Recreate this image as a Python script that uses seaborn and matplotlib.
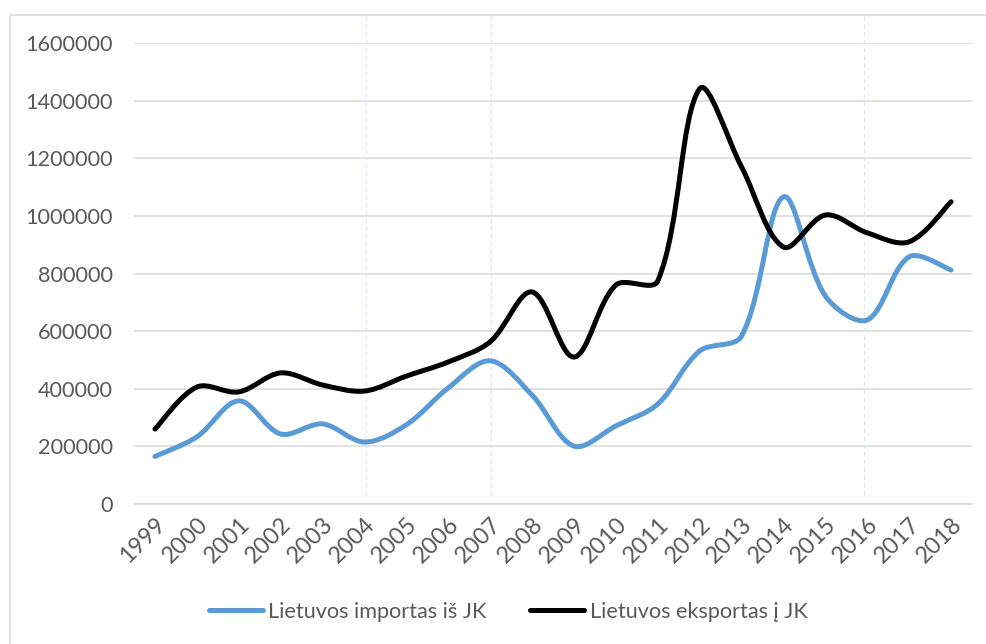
import seaborn as sns
import matplotlib.pyplot as plt
import pandas as pd
import numpy as np
from matplotlib.path import Path
from matplotlib.patches import PathPatch, Rectangle
from matplotlib.lines import Line2D

years = [str(y) for y in range(1999, 2019)]
importas = [165000, 233000, 358000, 243000, 278000, 215000, 275000, 403000, 497000, 378000,
            201000, 271000, 347000, 531000, 583000, 1066000, 722000, 639000, 858000, 812000]
eksportas = [260000, 406000, 389000, 455000, 413000, 392000, 444000, 493000, 563000, 736000,
             510000, 760000, 774000, 1441000, 1170000, 892000, 1003000, 941000, 910000, 1049000]
series_names = ['Lietuvos importas iš JK', 'Lietuvos eksportas į JK']
colors = ['#5B9BD5', '#000000']

sns.set_theme(style="white")
plt.rcParams['font.family'] = ['Lato', 'DejaVu Sans']
text_color = '#595959'
grid_color = '#D9D9D9'
fs = 15.6

df = pd.DataFrame({'year': years * 2,
                   'value': importas + eksportas,
                   'series': [series_names[0]] * 20 + [series_names[1]] * 20})
df['x'] = np.tile(np.arange(20), 2)

fig = plt.figure(figsize=(9.87, 6.44), dpi=100)
ax = fig.add_axes([134 / 987, 1 - 504 / 644, (972 - 134) / 987, (504 - 43) / 644])

sns.lineplot(data=df, x='x', y='value', hue='series', palette=colors,
             estimator=None, legend=False, ax=ax, linewidth=3.6)

ax.set_xlim(-0.5, 19.5)
ax.set_ylim(0, 1600000)


def smooth_path(xs, ys, sx, sy):
    # bezier smoothing done in screen space, tangents split by neighbouring segment lengths
    pts = np.column_stack([xs, ys])
    scr = pts * np.array([sx, sy])
    n = len(pts)
    verts = [pts[0]]
    codes = [Path.MOVETO]
    out_c, in_c = [], []
    for i in range(n):
        p_prev = pts[max(i - 1, 0)]
        p_next = pts[min(i + 1, n - 1)]
        d_prev = np.linalg.norm(scr[i] - scr[max(i - 1, 0)])
        d_next = np.linalg.norm(scr[min(i + 1, n - 1)] - scr[i])
        tot = d_prev + d_next if d_prev + d_next > 0 else 1
        tan = p_next - p_prev
        if i == 0 or i == n - 1:
            out_c.append(pts[i] + tan / 6)
            in_c.append(pts[i] - tan / 6)
        else:
            out_c.append(pts[i] + tan * d_next / tot / 3)
            in_c.append(pts[i] - tan * d_prev / tot / 3)
    for i in range(n - 1):
        verts += [out_c[i], in_c[i + 1], pts[i + 1]]
        codes += [Path.CURVE4] * 3
    return Path(verts, codes)


sx = (972 - 134) / 20
sy = (504 - 43) / 1600000
# replace straight seaborn segments with smoothed curves (like Excel's smoothed line)
for line in list(ax.get_lines()):
    xs, ys = line.get_data()
    patch = PathPatch(smooth_path(np.asarray(xs, float), np.asarray(ys, float), sx, sy),
                      facecolor='none', edgecolor=line.get_color(), linewidth=3.6,
                      capstyle='round', joinstyle='round', zorder=3)
    ax.add_patch(patch)
    line.remove()

ax.set_yticks(np.arange(0, 1600001, 200000))
ax.set_yticklabels([str(v) for v in range(0, 1600001, 200000)])
ax.set_xticks(np.arange(20))
ax.set_xticklabels(years, rotation=45, ha='right', rotation_mode='anchor')
ax.set_xlabel('')
ax.set_ylabel('')

ax.grid(axis='y', color=grid_color, linewidth=1.1)
ax.grid(axis='x', visible=False)
for side in ['top', 'right', 'left']:
    ax.spines[side].set_visible(False)
ax.spines['bottom'].set_color(grid_color)
ax.spines['bottom'].set_linewidth(1.1)
ax.tick_params(axis='y', length=0, pad=15, labelsize=fs, labelcolor=text_color)
ax.tick_params(axis='x', length=0, pad=7, labelsize=16.8, labelcolor=text_color)

# faint dashed vertical guides seen in the source image
for xv in [5.03, 8.03, 16.93]:
    ax.axvline(xv, ymin=0.02, ymax=1.06, color='#DCE6F2', linewidth=0.8,
               linestyle=(0, (4, 3)), clip_on=False, zorder=1)

handles = [Line2D([0], [0], color=c, linewidth=3.6, solid_capstyle='round') for c in colors]
fig.legend(handles, series_names, loc='center', bbox_to_anchor=(508 / 987, 1 - 612 / 644),
           ncol=2, frameon=False, fontsize=fs, handlelength=2.5, handletextpad=0.25,
           columnspacing=2.0, labelcolor=text_color)

fig.patches.append(Rectangle((10 / 987, -0.01), 1.0, 1 - 15 / 644 + 0.01,
                             transform=fig.transFigure, fill=False,
                             edgecolor=grid_color, linewidth=1.1))

fig.savefig('out.png', dpi=100)
